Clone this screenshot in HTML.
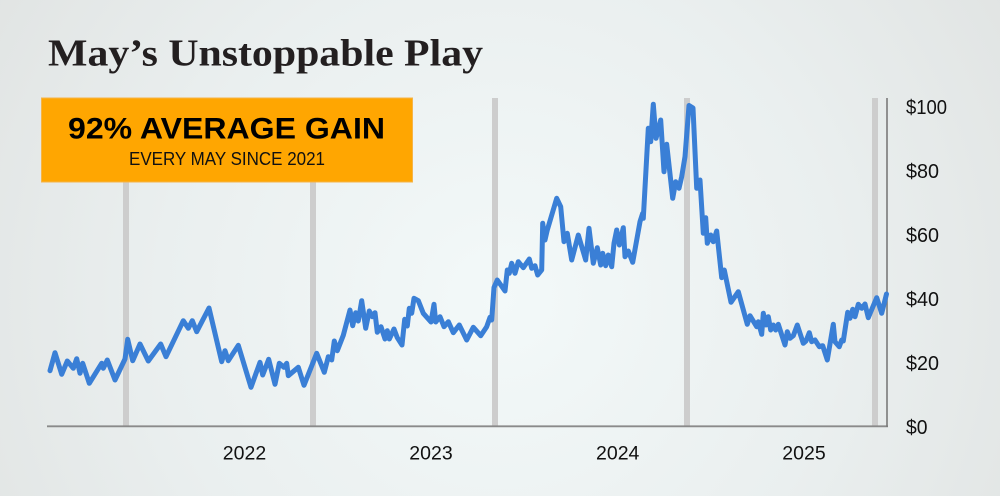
<!DOCTYPE html>
<html>
<head>
<meta charset="utf-8">
<style>
html,body{margin:0;padding:0;width:1000px;height:496px;overflow:hidden;}
body{background:#eaeeed;}
svg{display:block;}
</style>
</head>
<body>
<svg width="1000" height="496" viewBox="0 0 1000 496" xmlns="http://www.w3.org/2000/svg">
<defs>
<radialGradient id="bg" cx="500" cy="300" r="620" gradientUnits="userSpaceOnUse">
<stop offset="0" stop-color="#f3f9f9"/>
<stop offset="0.55" stop-color="#eaefef"/>
<stop offset="1" stop-color="#e0e3e2"/>
</radialGradient>
</defs>
<rect x="0" y="0" width="1000" height="496" fill="url(#bg)"/>

<!-- May bars -->
<g fill="#cdcdcd">
<rect x="123" y="98" width="6" height="328"/>
<rect x="310" y="98" width="6" height="328"/>
<rect x="492" y="98" width="6" height="328"/>
<rect x="684" y="98" width="6" height="328"/>
<rect x="872" y="98" width="6" height="328"/>
</g>

<!-- axes -->
<line x1="47" y1="426.3" x2="888" y2="426.3" stroke="#8a8a8a" stroke-width="1.8"/>
<line x1="887" y1="98" x2="887" y2="427" stroke="#7a7a7a" stroke-width="1.6"/>

<!-- series -->
<polyline fill="none" stroke="#3a7fd6" stroke-width="5" stroke-linejoin="round" stroke-linecap="round" points="
50,370.7 55,352.7 61.7,374.3 67.3,361 73.3,368.3 76.7,358.7 80,373.3 82.7,363.3 89.3,383.3 101.7,363.3 103.3,368.3 107.3,360 115,380 125,359 127.7,339.3 132.7,360.7 140,344 148.3,361 160.7,344 166,356.7 183.3,320.7 188.3,328.3 192.3,320.7 196.7,331.7 209,308 221.7,361.7 225,350.7 228.3,360.7 238.3,345.3 251,387.3 260,362.3 262.7,375 268.7,359.3 275,384.3 279.3,363.3 284,367.3 286.7,363.3 288.3,375.7 298.3,367.3 304,385.3 316.7,353.3 324.3,372.3 328.3,356.7 331.7,360 334.3,341 337.3,350.7 343.3,335.3 350,310 352.7,325.7 355.7,312.7 358.3,321 361.7,300.7 365.7,328.3 369.3,311 372.3,316.7 375,312.7 377.3,332.3 381,326.7 385,339 387.3,330.7 389.3,339 394,329 397.3,337.7 402,345 404.7,319.3 407.3,326 409.3,308.3 411.7,313.3 414,298.3 418.3,300.7 423.3,313.3 431,322 434,304.3 435.7,322 440,316.7 444,326.7 448.3,321.7 453.3,332.7 459.3,325 466.7,340 473.3,327.3 480.7,335.7 486.7,326.7 490,317.3 491.7,320 494,287.5 497.3,280 505,291 507.3,270 509.3,273.3 511.7,263.3 515,273.3 518.3,261.7 523.3,267.7 529.3,259 531.7,268.3 535,265.7 537.7,275 541.7,270 542.7,223.3 545,240 547.3,230 556.7,198.3 560.7,206.7 564,241.7 567.3,233.3 571.7,260 578.3,235 585.7,260 589,228.3 593.3,263.3 597.3,247.7 600.7,265 602.7,253.3 605.7,265.7 608.3,255 611.7,266.7 614,243.3 616.7,230 619.3,245 623.3,227.7 625,256.7 628.3,251 632.7,262.3 640,221.7 642.7,213.3 643.3,218.3 648.3,128.3 650.7,141.7 653.3,104.3 656,138.3 658.3,130 660.7,120 664,171.7 666.7,144.3 672.7,198.3 675.7,181.7 679,188.3 681.7,176.7 685,156.7 689,105.5 693,108 696.7,188.3 700,180 703.3,233.3 705.7,217.7 707.3,243.3 710.7,235 713.3,241.7 716.7,231 721.7,277.7 724.3,270 731,302.3 738.3,291.7 747.3,324.3 750,315.7 756.7,326.7 758.3,321.7 761.7,334.3 763.3,313.3 766,325 768.3,316.7 770.7,330 773.3,325 775.7,330 778.3,324.3 785,345 787.3,331.7 790,338.3 793.3,335.7 797.3,325 803.3,343.3 806,341 809.3,332.7 811.7,341.7 815,340 819.3,346.7 822.7,345.7 827.3,360 833.3,324.3 835,341.7 839.3,346.7 841.7,340 843.3,341 847.7,312.3 850,318.3 852.7,309.3 855,316.7 858.3,304.3 861.7,308.3 865,304 868.3,317.7 876.7,297.7 881.7,313.3 886.5,294"/>

<!-- title -->
<text x="48" y="65.5" font-family="Liberation Serif, serif" font-weight="bold" font-size="38" fill="#231f20" textLength="435" lengthAdjust="spacingAndGlyphs">May’s Unstoppable Play</text>

<!-- orange callout -->
<rect x="41" y="97.5" width="372" height="85" fill="#ffa601"/>
<rect x="41.5" y="98" width="371" height="84" fill="none" stroke="#f6b447" stroke-width="1"/>
<text x="68" y="138.3" font-family="Liberation Sans, Arial, sans-serif" font-weight="bold" font-size="30" fill="#000" textLength="317" lengthAdjust="spacingAndGlyphs">92% AVERAGE GAIN</text>
<text x="129" y="165" font-family="Liberation Sans, Arial, sans-serif" font-size="18" fill="#111" textLength="196" lengthAdjust="spacingAndGlyphs">EVERY MAY SINCE 2021</text>

<!-- y labels -->
<g font-family="Liberation Sans, Arial, sans-serif" font-size="20" fill="#111">
<text x="906" y="114" textLength="41" lengthAdjust="spacingAndGlyphs">$100</text>
<text x="906" y="178" textLength="33" lengthAdjust="spacingAndGlyphs">$80</text>
<text x="906" y="242" textLength="33" lengthAdjust="spacingAndGlyphs">$60</text>
<text x="906" y="306" textLength="33" lengthAdjust="spacingAndGlyphs">$40</text>
<text x="906" y="370" textLength="33" lengthAdjust="spacingAndGlyphs">$20</text>
<text x="906" y="434" textLength="21.5" lengthAdjust="spacingAndGlyphs">$0</text>
</g>

<!-- x labels -->
<g font-family="Liberation Sans, Arial, sans-serif" font-size="19.5" fill="#111" text-anchor="middle">
<text x="244.5" y="459.3">2022</text>
<text x="431" y="459.3">2023</text>
<text x="617.7" y="459.3">2024</text>
<text x="804" y="459.3">2025</text>
</g>
</svg>
</body>
</html>
